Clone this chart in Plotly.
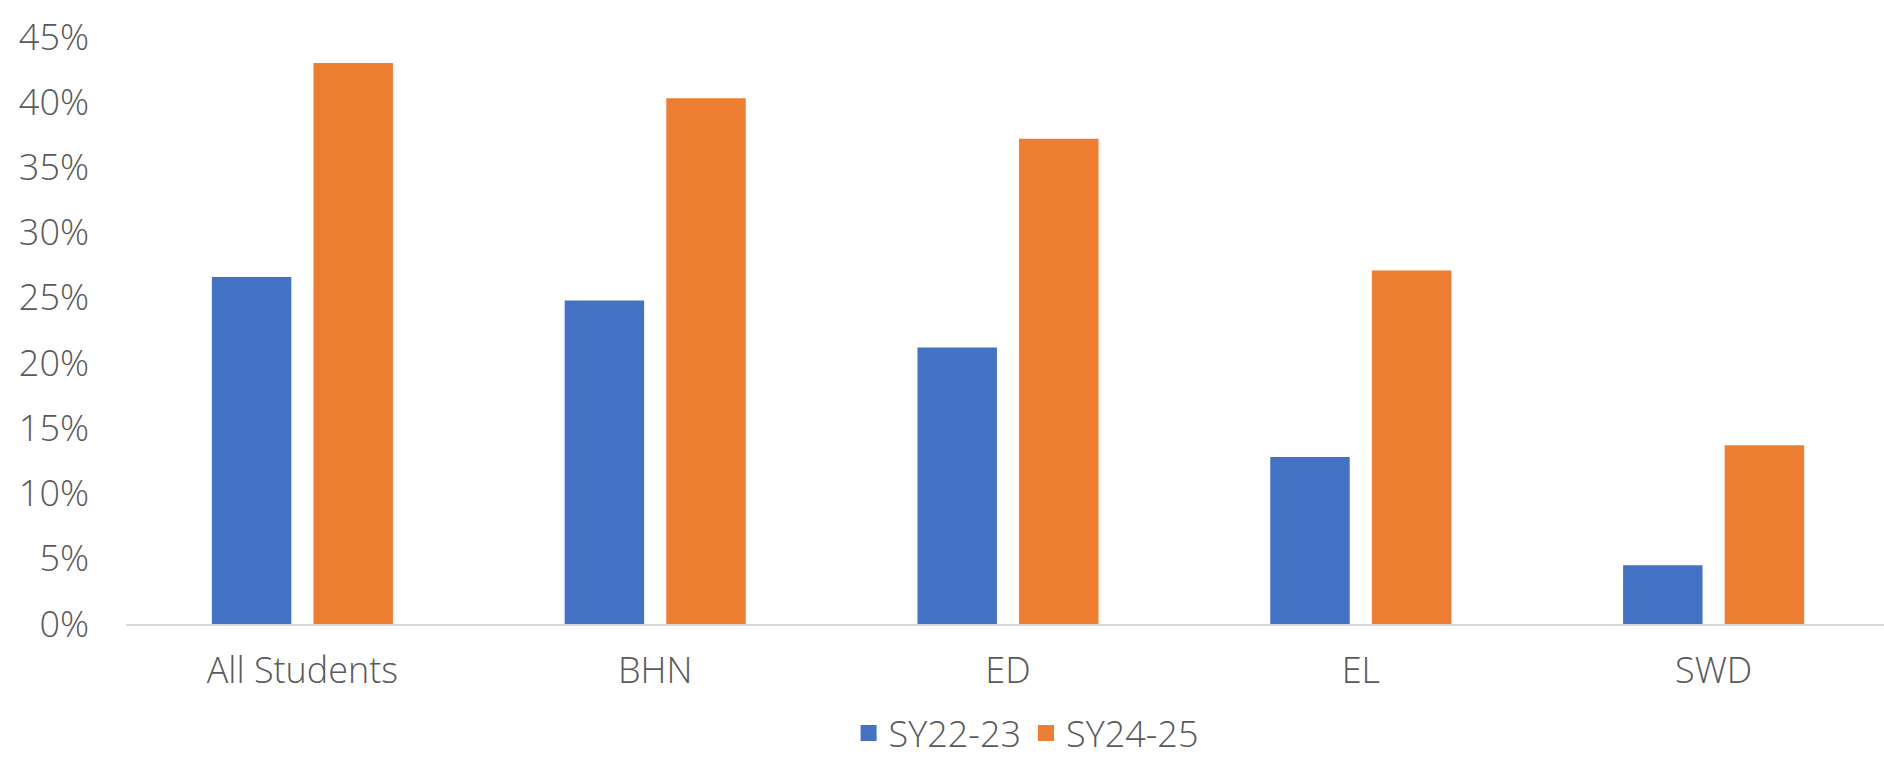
import plotly.graph_objects as go

categories = ["All Students", "BHN", "ED", "EL", "SWD"]
sy22_23 = [0.266, 0.248, 0.212, 0.128, 0.045]
sy24_25 = [0.430, 0.403, 0.372, 0.271, 0.137]
series_names = ["SY22-23", "SY24-25"]
colors = ["#4472C4", "#ED7D31"]
tick_vals = [0, 0.05, 0.10, 0.15, 0.20, 0.25, 0.30, 0.35, 0.40, 0.45]

FONT = "'Open Sans', Lato, sans-serif"
GREY = "#595959"

fig = go.Figure()
for name, vals, col in zip(series_names, [sy22_23, sy24_25], colors):
    fig.add_trace(go.Bar(x=categories, y=vals, name=name, marker_color=col,
                         marker_line_width=0, showlegend=False))
    fig.add_trace(go.Scatter(x=[None], y=[None], mode="markers", name=name,
                             marker=dict(symbol="square", size=16, color=col),
                             showlegend=True))

fig.update_layout(
    width=1884, height=759,
    margin=dict(l=126, r=0, t=37, b=135, autoexpand=False),
    paper_bgcolor="white", plot_bgcolor="white",
    barmode="group", bargap=0.424, bargroupgap=0.218,
    font=dict(family=FONT, size=36, color=GREY, weight=300),
    legend=dict(orientation="h", x=0.512, xanchor="center", yref="container",
                y=0.034, yanchor="middle", font=dict(size=36, color=GREY, weight=300),
                itemsizing="trace", traceorder="normal"),
    xaxis=dict(showline=True, linecolor="#D9D9D9", linewidth=2, ticks="",
               showgrid=False, ticklabelstandoff=14, range=[-0.5, 4.483]),
    yaxis=dict(range=[0, 0.45], tickvals=tick_vals, tickformat=".0%",
               showgrid=False, zeroline=False, showline=False, ticks="",
               ticklabelstandoff=36),
)

fig.write_html("out.html", config={"displayModeBar": False},
               post_script="document.body.style.margin='0px';document.body.style.overflow='hidden';")
